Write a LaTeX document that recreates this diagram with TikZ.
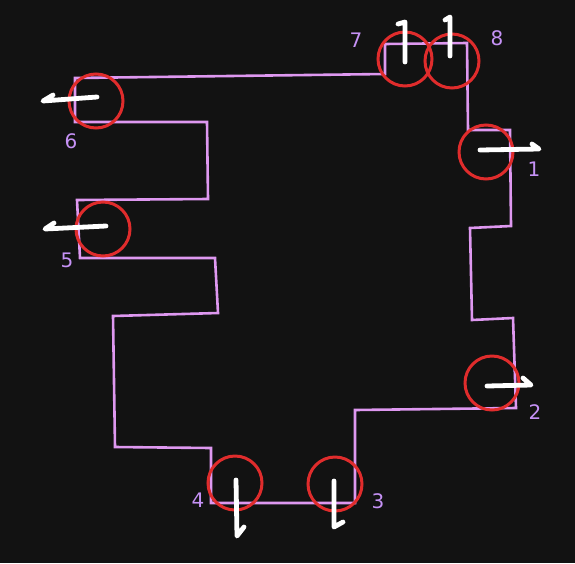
\documentclass[tikz,border=0pt]{standalone}
\usepackage{fontspec}
\setmainfont{DejaVu Sans}
\definecolor{bg}{HTML}{121212}
\definecolor{wallc}{RGB}{222,152,240}
\definecolor{ringc}{RGB}{224,44,44}
\definecolor{numc}{RGB}{198,146,246}
\tikzset{
  wall/.style={draw=wallc,line width=2.6pt,line join=miter},
  ring/.style={circle,draw=ringc,line width=3pt,minimum size=54pt,inner sep=0pt},
  flow/.style={draw=white,line width=4.8pt,line cap=round,line join=round},
  num/.style={text=numc,font=\fontsize{20}{20}\selectfont}
}
\begin{document}
\begin{tikzpicture}[x=1pt,y=-1pt]
\fill[bg] (0,0) rectangle (575,563);
% outline of the room
\draw[wall] (75,78) -- (385,74) -- (385,44) -- (467,43) -- (468,130) -- (510,130)
  -- (511,226) -- (470,228) -- (472,320) -- (513,318) -- (516,408) -- (355,410)
  -- (355,503) -- (211,503) -- (211,448) -- (115,447) -- (113,316) -- (218,313)
  -- (215,258) -- (80,258) -- (77,200) -- (208,199) -- (207,122) -- (75,122) -- cycle;
% openings
\foreach \n/\x/\y in {1/486/152,2/492/383,3/335/484,4/235/483,5/103/229,6/96/101,7/405/59,8/452/61}
  \node[ring] (c\n) at (\x,\y) {};
% flow arrows
\coordinate (t1) at (539,149);
\coordinate (t2) at (531,385);
\coordinate (t3) at (334,527);
\coordinate (t4) at (237,536);
\coordinate (t5) at (45,229);
\coordinate (t6) at (43,101);
\coordinate (t7) at (405,22);
\coordinate (t8) at (450,17);
\draw[flow] (c1.center) ++(-6,-2) -- (t1) -- ++(-7,-5);
\draw[flow] (c2.center) ++(-5,3) -- (t2) -- ++(-8,-7);
\draw[flow] (c3.center) ++(-1,-3) -- (t3) -- ++(9,-5);
\draw[flow] (c4.center) ++(1,-3) -- (t4) -- ++(7,-9);
\draw[flow] (c5.center) ++(3,-3) -- (t5) -- ++(9,-6);
\draw[flow] (c6.center) ++(1,-4) -- (t6) -- ++(10,-6);
\draw[flow] (c7.center) ++(0,3) -- (t7) -- ++(-7,2);
\draw[flow] (c8.center) ++(-2,-5) -- (t8) -- ++(-5,3);
% labels
\node[num] (l1) at (534,169) {1};
\node[num] (l2) at (535,412) {2};
\node[num] (l3) at (378,501) {3};
\node[num] (l4) at (198,500) {4};
\node[num] (l5) at (67,260) {5};
\node[num] (l6) at (71,141) {6};
\node[num] (l7) at (356,40) {7};
\node[num] (l8) at (497,38) {8};
\end{tikzpicture}
\end{document}
